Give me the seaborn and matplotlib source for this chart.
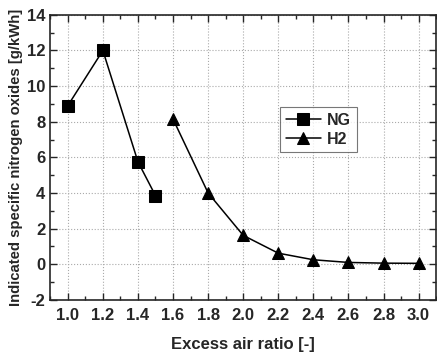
import matplotlib.pyplot as plt
import numpy as np
import pandas as pd
import seaborn as sns
from matplotlib.ticker import MultipleLocator

ng_lambda = [1.0, 1.2, 1.4, 1.5]
ng_nox = [8.9, 12.0, 5.75, 3.85]
h2_lambda = [1.6, 1.8, 2.0, 2.2, 2.4, 2.6, 2.8, 3.0]
h2_nox = [8.15, 4.0, 1.62, 0.62, 0.25, 0.1, 0.06, 0.05]

sns.set_style('ticks')
plt.rcParams['font.family'] = ['Liberation Sans', 'DejaVu Sans']
plt.rcParams['font.weight'] = 'bold'
plt.rcParams['axes.unicode_minus'] = False

df = pd.concat([
    pd.DataFrame({'lam': ng_lambda, 'nox': ng_nox, 'fuel': 'NG'}),
    pd.DataFrame({'lam': h2_lambda, 'nox': h2_nox, 'fuel': 'H2'}),
])

fig = plt.figure(figsize=(4.37, 3.54), dpi=100)
ax = fig.add_axes([0.115, 0.153, 0.883, 0.805])
sns.lineplot(data=df, x='lam', y='nox', style='fuel', markers={'NG': 's', 'H2': '^'},
             dashes=False, color='black', markersize=8.5, linewidth=1.1,
             markeredgecolor='black', ax=ax)

ax.set_xlim(0.9, 3.1)
ax.set_ylim(-2, 14)
ax.xaxis.set_minor_locator(MultipleLocator(0.1))
ax.yaxis.set_major_locator(MultipleLocator(2))
ax.yaxis.set_minor_locator(MultipleLocator(1))
ax.set_xticks(np.arange(1.0, 3.01, 0.2))
ax.set_xticklabels([f'{v:.1f}' for v in np.arange(1.0, 3.01, 0.2)])
ax.tick_params(which='both', direction='in', top=True, right=True, labelsize=12)
ax.tick_params(which='major', length=5, width=1)
ax.tick_params(which='minor', length=3, width=1)
ax.tick_params(axis='x', pad=6)
ax.grid(True, which='major', linestyle=':', color='#aaaaaa', linewidth=0.8)
for s in ax.spines.values():
    s.set_linewidth(1.2)

ax.set_xlabel('Excess air ratio [-]', fontsize=12, fontweight='bold', labelpad=10)
ax.set_ylabel('Indicated specific nitrogen oxides [g/kWh]', fontsize=10.7, fontweight='bold', labelpad=3)

leg = ax.legend(title=None, loc='upper left', bbox_to_anchor=(0.575, 0.705), fontsize=11.5,
                frameon=True, fancybox=False, edgecolor='#555555', handlelength=2.2,
                borderpad=0.35, labelspacing=0.25, handletextpad=0.4)
leg.get_frame().set_linewidth(0.8)

fig.savefig('out.png', dpi=100)
plt.close()
